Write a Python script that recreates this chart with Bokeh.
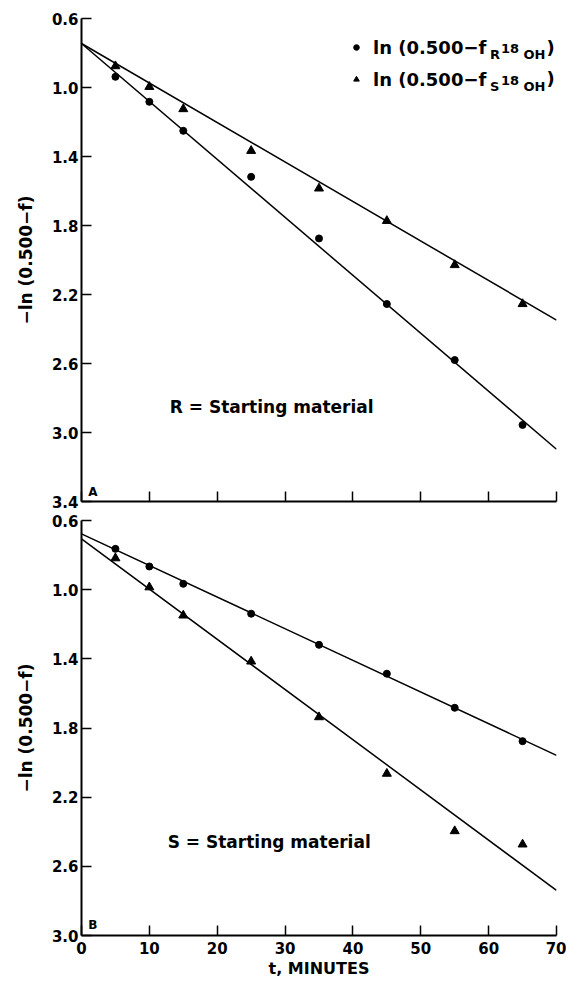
from bokeh.plotting import figure
from bokeh.layouts import column
from bokeh.models import (Range1d, FixedTicker, PrintfTickFormatter, Label,
                          Legend, LegendItem, CustomLabelingPolicy)
from bokeh.embed import file_html
from bokeh.resources import INLINE

# ---- data ----
t_min = [5, 10, 15, 25, 35, 45, 55, 65]
# Panel A (R = starting material)
a_r18 = [0.938, 1.083, 1.251, 1.518, 1.875, 2.255, 2.580, 2.956]
a_s18 = [0.876, 0.996, 1.125, 1.367, 1.585, 1.773, 2.029, 2.255]
# Panel B (S = starting material)
b_r18 = [0.764, 0.866, 0.966, 1.139, 1.319, 1.486, 1.683, 1.876]
b_s18 = [0.818, 0.986, 1.149, 1.415, 1.737, 2.064, 2.396, 2.473]
# fitted straight lines (end points at t = 0 and t = 70)
fit_t = [0, 70]
a_r18_fit = [0.745, 3.097]
a_s18_fit = [0.745, 2.348]
b_r18_fit = [0.677, 1.958]
b_s18_fit = [0.706, 2.739]
x_ticks = [0, 10, 20, 30, 40, 50, 60, 70]
y_ticks_a = [0.6, 1.0, 1.4, 1.8, 2.2, 2.6, 3.0, 3.4]
y_ticks_b = [0.6, 1.0, 1.4, 1.8, 2.2, 2.6, 3.0]

FONT = "DejaVu Sans"
Y_TITLE = "\u2212ln (0.500\u2212f)"
LEFT, FRAME_W, RIGHT = 81, 475, 10
A_TOP, A_H, A_BOT = 18, 483, 9
B_TOP, B_H, B_BOT = 10, 415, 44


def make_panel(y_ticks, frame_h, top, bottom, show_x_labels):
    p = figure(frame_width=FRAME_W, frame_height=frame_h,
               min_border_left=LEFT, min_border_right=RIGHT,
               min_border_top=top, min_border_bottom=bottom,
               x_range=Range1d(0, 70),
               y_range=Range1d(y_ticks[-1], y_ticks[0]),
               output_backend="svg", toolbar_location=None,
               tools="")
    p.outline_line_color = None
    p.grid.visible = False
    p.background_fill_color = "white"
    p.border_fill_color = "white"
    for ax in (p.xaxis[0], p.yaxis[0]):
        ax.axis_line_width = 2
        ax.axis_line_color = "black"
        ax.major_tick_in = 10
        ax.major_tick_out = 0
        ax.major_tick_line_width = 1.5
        ax.major_tick_line_color = "black"
        ax.minor_tick_line_color = None
        ax.major_label_text_font = FONT
        ax.major_label_text_font_style = "bold"
        ax.major_label_text_font_size = "15px"
        ax.major_label_text_color = "black"
        ax.axis_label_text_font = FONT
        ax.axis_label_text_font_style = "bold"
        ax.axis_label_text_color = "black"
    p.xaxis.ticker = FixedTicker(ticks=x_ticks)
    p.yaxis.ticker = FixedTicker(ticks=y_ticks)
    p.yaxis.formatter = PrintfTickFormatter(format="%.1f")
    p.yaxis.major_label_standoff = 3
    p.yaxis.axis_label = Y_TITLE
    p.yaxis.axis_label_text_font_size = "17px"
    p.yaxis.axis_label_standoff = 13
    if show_x_labels:
        p.xaxis.major_label_standoff = 6
        p.xaxis.axis_label = "t, MINUTES"
        p.xaxis.axis_label_text_font_size = "16px"
        p.xaxis.axis_label_standoff = 2
    else:
        # upper panel: tick marks only, no tick labels
        p.xaxis.major_label_standoff = 0
        p.xaxis.major_label_text_font_size = "1px"
        p.xaxis.major_label_policy = CustomLabelingPolicy(
            code="for (const i of Array.from(indices)) { indices.unset(i) }\nreturn indices")
    return p


# ---------------- Panel A ----------------
pa = make_panel(y_ticks_a, A_H, A_TOP, A_BOT, False)
pa.line(fit_t, a_r18_fit, line_color="black", line_width=1.5)
pa.line(fit_t, a_s18_fit, line_color="black", line_width=1.5)
r_a = pa.scatter(t_min, a_r18, marker="circle", size=7, color="black")
s_a = pa.scatter(t_min, a_s18, marker="triangle", size=9, color="black")

legend = Legend(items=[LegendItem(label="ln (0.500\u2212f", renderers=[r_a]),
                       LegendItem(label="ln (0.500\u2212f", renderers=[s_a])],
                location=(268, 410), padding=0, spacing=8,
                glyph_width=14, glyph_height=24, label_height=24,
                label_standoff=10, border_line_color=None,
                background_fill_alpha=0,
                label_text_font=FONT, label_text_font_style="bold",
                label_text_font_size="18px", label_text_color="black")
pa.add_layout(legend)

# subscripts of the legend entries (screen units relative to the frame)
row_y = [454.3, 422.7]
for ry, letter in zip(row_y, ["R", "S"]):
    for txt, x, dy, size in [(letter, 408.5, -7.5, "13px"),
                             ("18", 419.5, -1.5, "13px"),
                             ("OH", 442.0, -7.5, "13px"),
                             (")", 465.0, 0.0, "18px")]:
        pa.add_layout(Label(x=x, y=ry + dy, x_units="screen", y_units="screen",
                            text=txt, text_font=FONT, text_font_style="bold",
                            text_font_size=size, text_baseline="middle",
                            text_align="left", text_color="black"))

pa.add_layout(Label(x=13.0, y=2.85, text="R = Starting material",
                    text_font=FONT, text_font_style="bold",
                    text_font_size="17px", text_baseline="middle",
                    text_color="black"))
pa.add_layout(Label(x=1.0, y=3.343, text="A", text_font=FONT,
                    text_font_style="bold", text_font_size="12px",
                    text_baseline="middle", text_color="black"))

# ---------------- Panel B ----------------
pb = make_panel(y_ticks_b, B_H, B_TOP, B_BOT, True)
pb.line(fit_t, b_r18_fit, line_color="black", line_width=1.5)
pb.line(fit_t, b_s18_fit, line_color="black", line_width=1.5)
pb.scatter(t_min, b_r18, marker="circle", size=7, color="black")
pb.scatter(t_min, b_s18, marker="triangle", size=9, color="black")
pb.add_layout(Label(x=12.7, y=2.46, text="S = Starting material",
                    text_font=FONT, text_font_style="bold",
                    text_font_size="17px", text_baseline="middle",
                    text_color="black"))
pb.add_layout(Label(x=1.0, y=2.941, text="B", text_font=FONT,
                    text_font_style="bold", text_font_size="12px",
                    text_baseline="middle", text_color="black"))

layout = column(pa, pb, spacing=0)
open("out.html", "w").write(file_html(layout, INLINE))
